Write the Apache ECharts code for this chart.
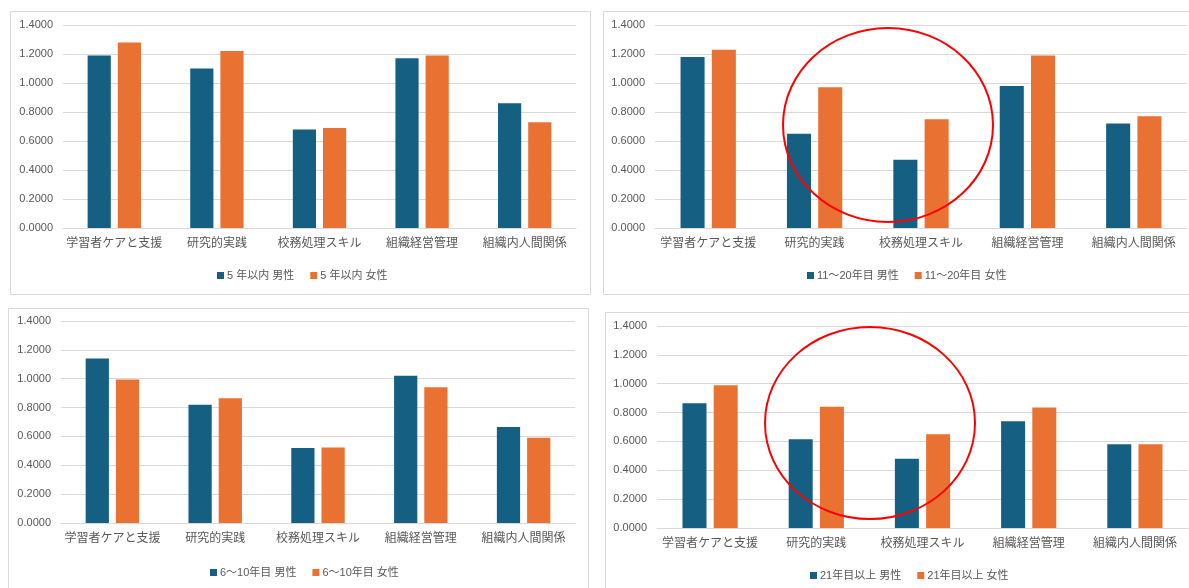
<!DOCTYPE html>
<html>
<head>
<meta charset="utf-8">
<script src="https://cdn.jsdelivr.net/npm/echarts@6/dist/echarts.min.js"></script>
<style>
  html, body { margin: 0; padding: 0; background: #fff; }
  #chart { width: 1189px; height: 588px; }
</style>
</head>
<body>
<div id="chart"></div>
<script>
// Competency categories shared by all four panels
const categories = ['学習者ケアと支援', '研究的実践', '校務処理スキル', '組織経営管理', '組織内人間関係'];

// Mean scores by years of experience and gender
const male5 = [1.19, 1.10, 0.68, 1.17, 0.86];
const female5 = [1.28, 1.22, 0.69, 1.19, 0.73];
const male11to20 = [1.18, 0.65, 0.47, 0.98, 0.72];
const female11to20 = [1.23, 0.97, 0.75, 1.19, 0.77];
const male6to10 = [1.14, 0.82, 0.52, 1.02, 0.665];
const female6to10 = [0.995, 0.865, 0.523, 0.94, 0.59];
const male21 = [0.865, 0.615, 0.48, 0.74, 0.58];
const female21 = [0.99, 0.84, 0.65, 0.835, 0.58];

// Series names shown in each panel's legend
const legendNames = [
  ['5 年以内 男性', '5 年以内 女性'],
  ['11～20年目 男性', '11～20年目 女性'],
  ['6～10年目 男性', '6～10年目 女性'],
  ['21年目以上 男性', '21年目以上 女性']
];
const panelData = [
  [male5, female5],
  [male11to20, female11to20],
  [male6to10, female6to10],
  [male21, female21]
];

const MALE = '#156082';
const FEMALE = '#E97132';
const TEXT = '#595959';
const LINE = '#D9D9D9';
const FONT = '"Liberation Sans", "Noto Sans CJK JP", sans-serif';

// Plot areas and legend placement for the 2x2 layout
const grids = [
  { left: 63, top: 25, width: 513, height: 203 },
  { left: 655, top: 25, width: 532, height: 203 },
  { left: 61, top: 321, width: 514, height: 202 },
  { left: 657, top: 326, width: 531, height: 202 }
];
const legendPos = [
  { left: 212, top: 265 },
  { left: 802, top: 265 },
  { left: 205, top: 562 },
  { left: 805, top: 565 }
];

const option = {
  backgroundColor: '#fff',
  animation: false,
  textStyle: { fontFamily: FONT },
  grid: grids,
  xAxis: grids.map((g, i) => ({
    type: 'category',
    gridIndex: i,
    data: categories,
    axisLine: { show: true, lineStyle: { color: LINE, width: 1 } },
    axisTick: { show: false },
    axisLabel: { color: TEXT, fontSize: 12, margin: 10, fontFamily: FONT, interval: 0 }
  })),
  yAxis: grids.map((g, i) => ({
    type: 'value',
    gridIndex: i,
    min: 0,
    max: 1.4,
    interval: 0.2,
    axisLine: { show: false },
    axisTick: { show: false },
    splitLine: { lineStyle: { color: LINE, width: 1 } },
    axisLabel: {
      color: TEXT, fontSize: 11, margin: 10, fontFamily: FONT,
      formatter: v => v.toFixed(4)
    }
  })),
  legend: legendNames.map((names, i) => ({
    data: names,
    left: legendPos[i].left,
    top: legendPos[i].top,
    itemWidth: 7,
    itemHeight: 7,
    itemGap: 16,
    icon: 'rect',
    textStyle: { color: TEXT, fontSize: 11, fontFamily: FONT, padding: [0, 0, 0, -2] }
  })),
  series: panelData.flatMap((pair, i) => [
    {
      name: legendNames[i][0], type: 'bar', xAxisIndex: i, yAxisIndex: i,
      data: pair[0], itemStyle: { color: MALE },
      barGap: '30%', barCategoryGap: '48%'
    },
    {
      name: legendNames[i][1], type: 'bar', xAxisIndex: i, yAxisIndex: i,
      data: pair[1], itemStyle: { color: FEMALE },
      barGap: '30%', barCategoryGap: '48%'
    }
  ]),
  graphic: [
    // panel frames
    { type: 'rect', z: -10, shape: { x: 10.5, y: 11.5, width: 580, height: 283 }, style: { fill: null, stroke: LINE, lineWidth: 1 } },
    { type: 'rect', z: -10, shape: { x: 603.5, y: 11.5, width: 600, height: 283 }, style: { fill: null, stroke: LINE, lineWidth: 1 } },
    { type: 'rect', z: -10, shape: { x: 8.5, y: 308.5, width: 580, height: 300 }, style: { fill: null, stroke: LINE, lineWidth: 1 } },
    { type: 'rect', z: -10, shape: { x: 605.5, y: 312.5, width: 600, height: 300 }, style: { fill: null, stroke: LINE, lineWidth: 1 } },
    // highlight rings
    { type: 'ellipse', z: 100, shape: { cx: 888, cy: 125, rx: 105, ry: 97 }, style: { fill: null, stroke: '#FF0000', lineWidth: 2 } },
    { type: 'ellipse', z: 100, shape: { cx: 870, cy: 423, rx: 105, ry: 96 }, style: { fill: null, stroke: '#FF0000', lineWidth: 2 } }
  ]
};

const chart = echarts.init(document.getElementById('chart'), null, { renderer: 'canvas' });
chart.setOption(option);
</script>
</body>
</html>
